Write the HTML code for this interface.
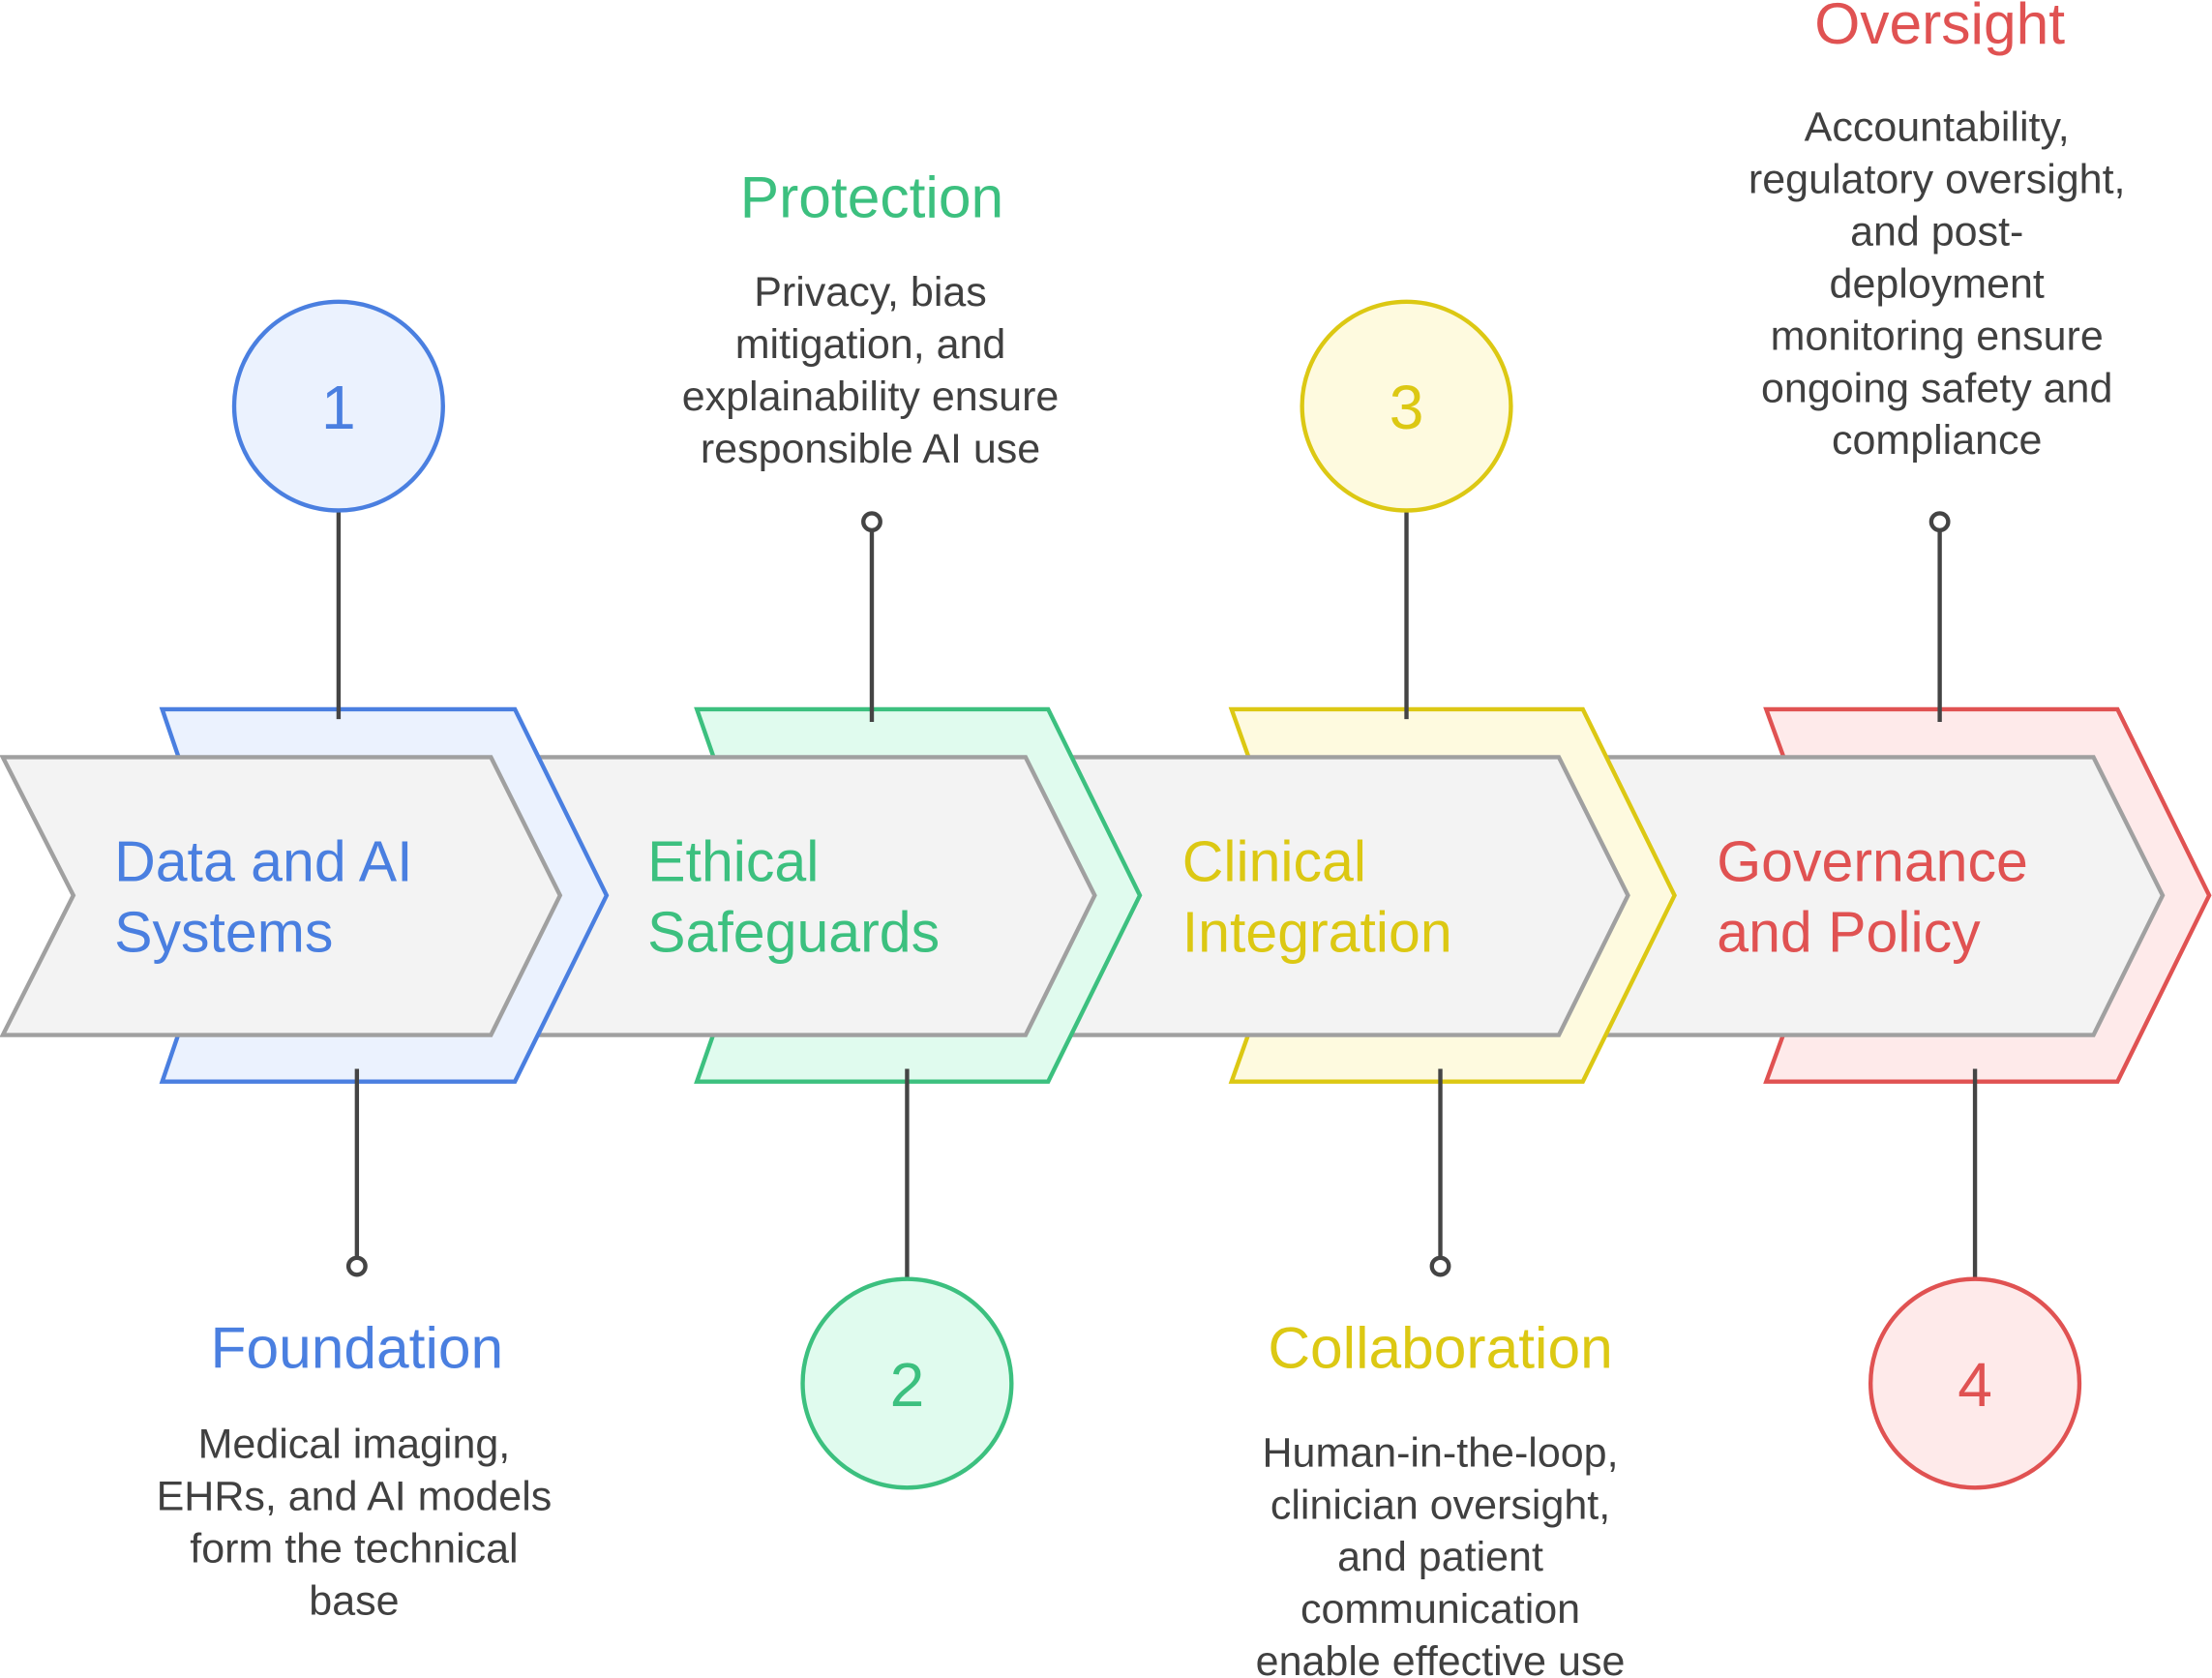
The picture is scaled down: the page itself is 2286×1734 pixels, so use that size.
<!DOCTYPE html>
<html><head><meta charset="utf-8"><style>
html,body{margin:0;padding:0;background:#fff;}
svg{display:block;}
text{font-family:"Liberation Sans",sans-serif;}
.d{font-size:29.5px;fill:#404040;text-anchor:middle;}
.h{font-size:41.5px;text-anchor:middle;}
.t{font-size:40.5px;}
</style></head><body>
<svg width="2286" height="1734" viewBox="0 0 1568 1190" preserveAspectRatio="none" xmlns="http://www.w3.org/2000/svg">
<rect width="1568" height="1190" fill="#fff"/>
<polygon points="1252,503 1501,503 1566,635 1501,767 1252,767 1300,635" fill="#feeaea" stroke="#e05252" stroke-width="3"/>
<polygon points="1100,537 1484,537 1533,635 1484,734 1100,734" fill="#f3f3f3" stroke="#a0a0a0" stroke-width="3"/>
<polygon points="873,503 1122,503 1187,635 1122,767 873,767 920,635" fill="#fefadf" stroke="#dcc813" stroke-width="3"/>
<polygon points="720,537 1105,537 1154,635 1105,734 720,734" fill="#f3f3f3" stroke="#a0a0a0" stroke-width="3"/>
<polygon points="494,503 743,503 808,635 743,767 494,767 540,635" fill="#e0fbee" stroke="#3cc07f" stroke-width="3"/>
<polygon points="340,537 727,537 776,635 727,734 340,734" fill="#f3f3f3" stroke="#a0a0a0" stroke-width="3"/>
<polygon points="115,503 365,503 430,635 365,767 115,767 160,635" fill="#ebf2fe" stroke="#4a7fe0" stroke-width="3"/>
<polygon points="2,537 348,537 397,635 348,734 2,734 52,635" fill="#f3f3f3" stroke="#a0a0a0" stroke-width="3"/>

<text class="t" x="81" y="625" fill="#4a7fe0">Data and AI</text>
<text class="t" x="81" y="675" fill="#4a7fe0">Systems</text>
<text class="t" x="459" y="625" fill="#3cc07f">Ethical</text>
<text class="t" x="459" y="675" fill="#3cc07f">Safeguards</text>
<text class="t" x="838" y="625" fill="#dcc813">Clinical</text>
<text class="t" x="838" y="675" fill="#dcc813">Integration</text>
<text class="t" x="1217" y="625" fill="#e05252">Governance</text>
<text class="t" x="1217" y="675" fill="#e05252">and Policy</text>

<g stroke="#444" stroke-width="3" fill="#fff">
<line x1="240" y1="362" x2="240" y2="510"/>
<line x1="253" y1="758" x2="253" y2="892"/>
<circle cx="253" cy="898" r="6"/>
<line x1="618" y1="376" x2="618" y2="512"/>
<circle cx="618" cy="370" r="6"/>
<line x1="643" y1="758" x2="643" y2="907"/>
<line x1="997" y1="362" x2="997" y2="510"/>
<line x1="1021" y1="758" x2="1021" y2="892"/>
<circle cx="1021" cy="898" r="6"/>
<line x1="1375" y1="376" x2="1375" y2="512"/>
<circle cx="1375" cy="370" r="6"/>
<line x1="1400" y1="758" x2="1400" y2="907"/>
</g>

<circle cx="240" cy="288" r="74" fill="#ebf2fe" stroke="#4a7fe0" stroke-width="3"/>
<text x="240" y="304" font-size="44" text-anchor="middle" fill="#4a7fe0">1</text>
<circle cx="643" cy="981" r="74" fill="#e0fbee" stroke="#3cc07f" stroke-width="3"/>
<text x="643" y="997" font-size="44" text-anchor="middle" fill="#3cc07f">2</text>
<circle cx="997" cy="288" r="74" fill="#fefadf" stroke="#dcc813" stroke-width="3"/>
<text x="997" y="304" font-size="44" text-anchor="middle" fill="#dcc813">3</text>
<circle cx="1400" cy="981" r="74" fill="#feeaea" stroke="#e05252" stroke-width="3"/>
<text x="1400" y="997" font-size="44" text-anchor="middle" fill="#e05252">4</text>

<text class="h" x="253" y="970" fill="#4a7fe0">Foundation</text>
<text class="d" x="251" y="1034">Medical imaging,</text>
<text class="d" x="251" y="1071">EHRs, and AI models</text>
<text class="d" x="251" y="1108">form the technical</text>
<text class="d" x="251" y="1145">base</text>

<text class="h" x="618" y="154" fill="#3cc07f">Protection</text>
<text class="d" x="617" y="217">Privacy, bias</text>
<text class="d" x="617" y="254">mitigation, and</text>
<text class="d" x="617" y="291">explainability ensure</text>
<text class="d" x="617" y="328">responsible AI use</text>

<text class="h" x="1021" y="970" fill="#dcc813">Collaboration</text>
<text class="d" x="1021" y="1040">Human-in-the-loop,</text>
<text class="d" x="1021" y="1077">clinician oversight,</text>
<text class="d" x="1021" y="1114">and patient</text>
<text class="d" x="1021" y="1151">communication</text>
<text class="d" x="1021" y="1188">enable effective use</text>

<text class="h" x="1375" y="31" fill="#e05252">Oversight</text>
<text class="d" x="1373" y="100">Accountability,</text>
<text class="d" x="1373" y="137">regulatory oversight,</text>
<text class="d" x="1373" y="174">and post-</text>
<text class="d" x="1373" y="211">deployment</text>
<text class="d" x="1373" y="248">monitoring ensure</text>
<text class="d" x="1373" y="285">ongoing safety and</text>
<text class="d" x="1373" y="322">compliance</text>
</svg>
</body></html>
